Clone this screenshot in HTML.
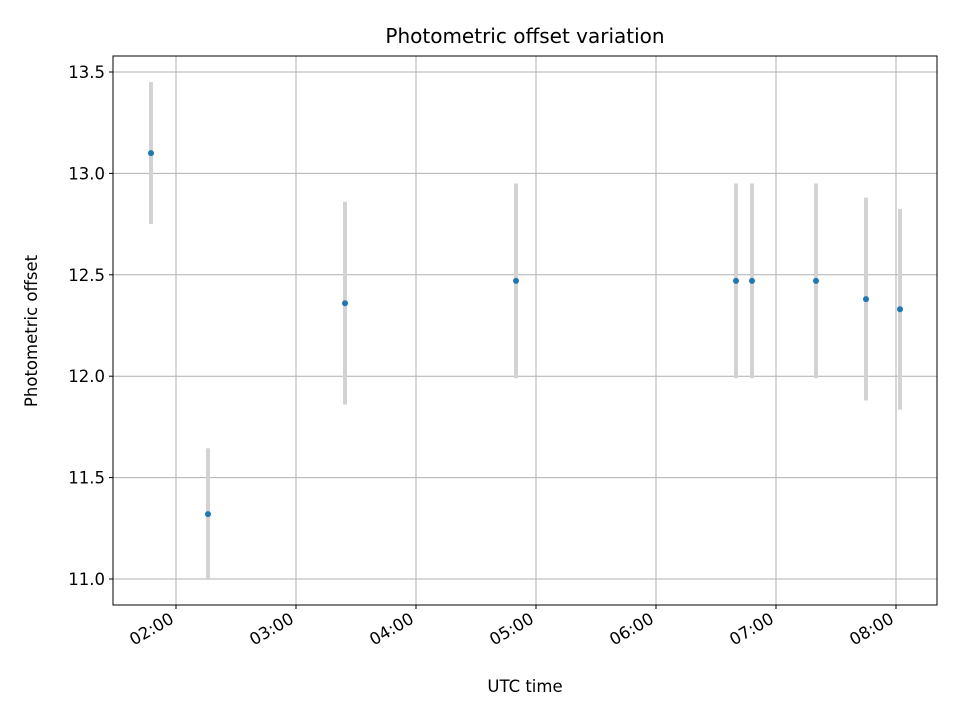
<!DOCTYPE html>
<html><head><meta charset="utf-8"><style>
body{margin:0;background:#fff}
svg text{font-family:"DejaVu Sans","Liberation Sans",sans-serif;fill:#000}
</style></head><body>
<svg id="chart" width="960" height="720" viewBox="0 0 960 720" xmlns="http://www.w3.org/2000/svg">
<rect width="960" height="720" fill="#fff"/>
<g id="grid"></g>
<g id="errs"></g>
<g id="pts"></g>
<rect x="113" y="56" width="824" height="549" fill="none" stroke="#000" stroke-width="1"/>
<g id="ticks"></g>
<text x="525" y="43" font-size="20" text-anchor="middle">Photometric offset variation</text>
<text x="525" y="692" font-size="16.5" text-anchor="middle">UTC time</text>
<text x="37" y="331" font-size="16.5" text-anchor="middle" transform="rotate(-90 37 331)">Photometric offset</text>
</svg>
<script>
// time in minutes since 00:00 UTC
const times = [107.5, 136, 204.5, 290, 400, 408, 440, 465, 482];
const offsets = [13.10, 11.32, 12.36, 12.47, 12.47, 12.47, 12.47, 12.38, 12.33];
const errors = [0.35, 0.325, 0.5, 0.48, 0.48, 0.48, 0.48, 0.5, 0.495];
const xTickMinutes = [120, 180, 240, 300, 360, 420, 480];
const xTickLabels = ["02:00","03:00","04:00","05:00","06:00","07:00","08:00"];
const yTicks = [11.0, 11.5, 12.0, 12.5, 13.0, 13.5];
const yTickLabels = ["11.0","11.5","12.0","12.5","13.0","13.5"];

const L=113,R=937,T=56,B=605;
function xs(m){return 176+(m-120)*2;}
function ys(v){return 579-(v-11)*202.8;}
const NS="http://www.w3.org/2000/svg";
function mk(tag,attrs,parent){const e=document.createElementNS(NS,tag);for(const k in attrs)e.setAttribute(k,attrs[k]);parent.appendChild(e);return e;}
const grid=document.getElementById('grid'),ticks=document.getElementById('ticks'),errs=document.getElementById('errs'),pts=document.getElementById('pts');

xTickMinutes.forEach((m,i)=>{
  const x=xs(m);
  const g=mk('line',{x1:x,x2:x,y1:T,y2:B,stroke:'#b0b0b0','stroke-width':1},grid);
  
  
  const t=mk('line',{x1:x,x2:x,y1:B,y2:B+4,stroke:'#000'},ticks);
  
  
  const ax=x-1, ay=B+17;
  const lb=mk('text',{x:ax,y:ay,'font-size':16.5,'text-anchor':'end',transform:`rotate(-30 ${ax} ${ay})`},ticks);
  lb.textContent=xTickLabels[i];
  
  
});
yTicks.forEach((v,i)=>{
  const y=ys(v);
  const g=mk('line',{x1:L,x2:R,y1:y,y2:y,stroke:'#b0b0b0','stroke-width':1},grid);
  
  
  const t=mk('line',{x1:L-4,x2:L,y1:y,y2:y,stroke:'#000'},ticks);
  
  
  const lb=mk('text',{x:L-8,y:y+6,'font-size':16.5,'text-anchor':'end'},ticks);
  lb.textContent=yTickLabels[i];
  
  
});
times.forEach((m,i)=>{
  const x=xs(m);
  const e=mk('line',{x1:x,x2:x,y1:ys(offsets[i]+errors[i]),y2:ys(offsets[i]-errors[i]),stroke:'#d3d3d3','stroke-width':4},errs);
  
  
  const c=mk('circle',{cx:x,cy:ys(offsets[i]),r:3,fill:'#1f77b4'},pts);
  
  
});
</script>
</body></html>
